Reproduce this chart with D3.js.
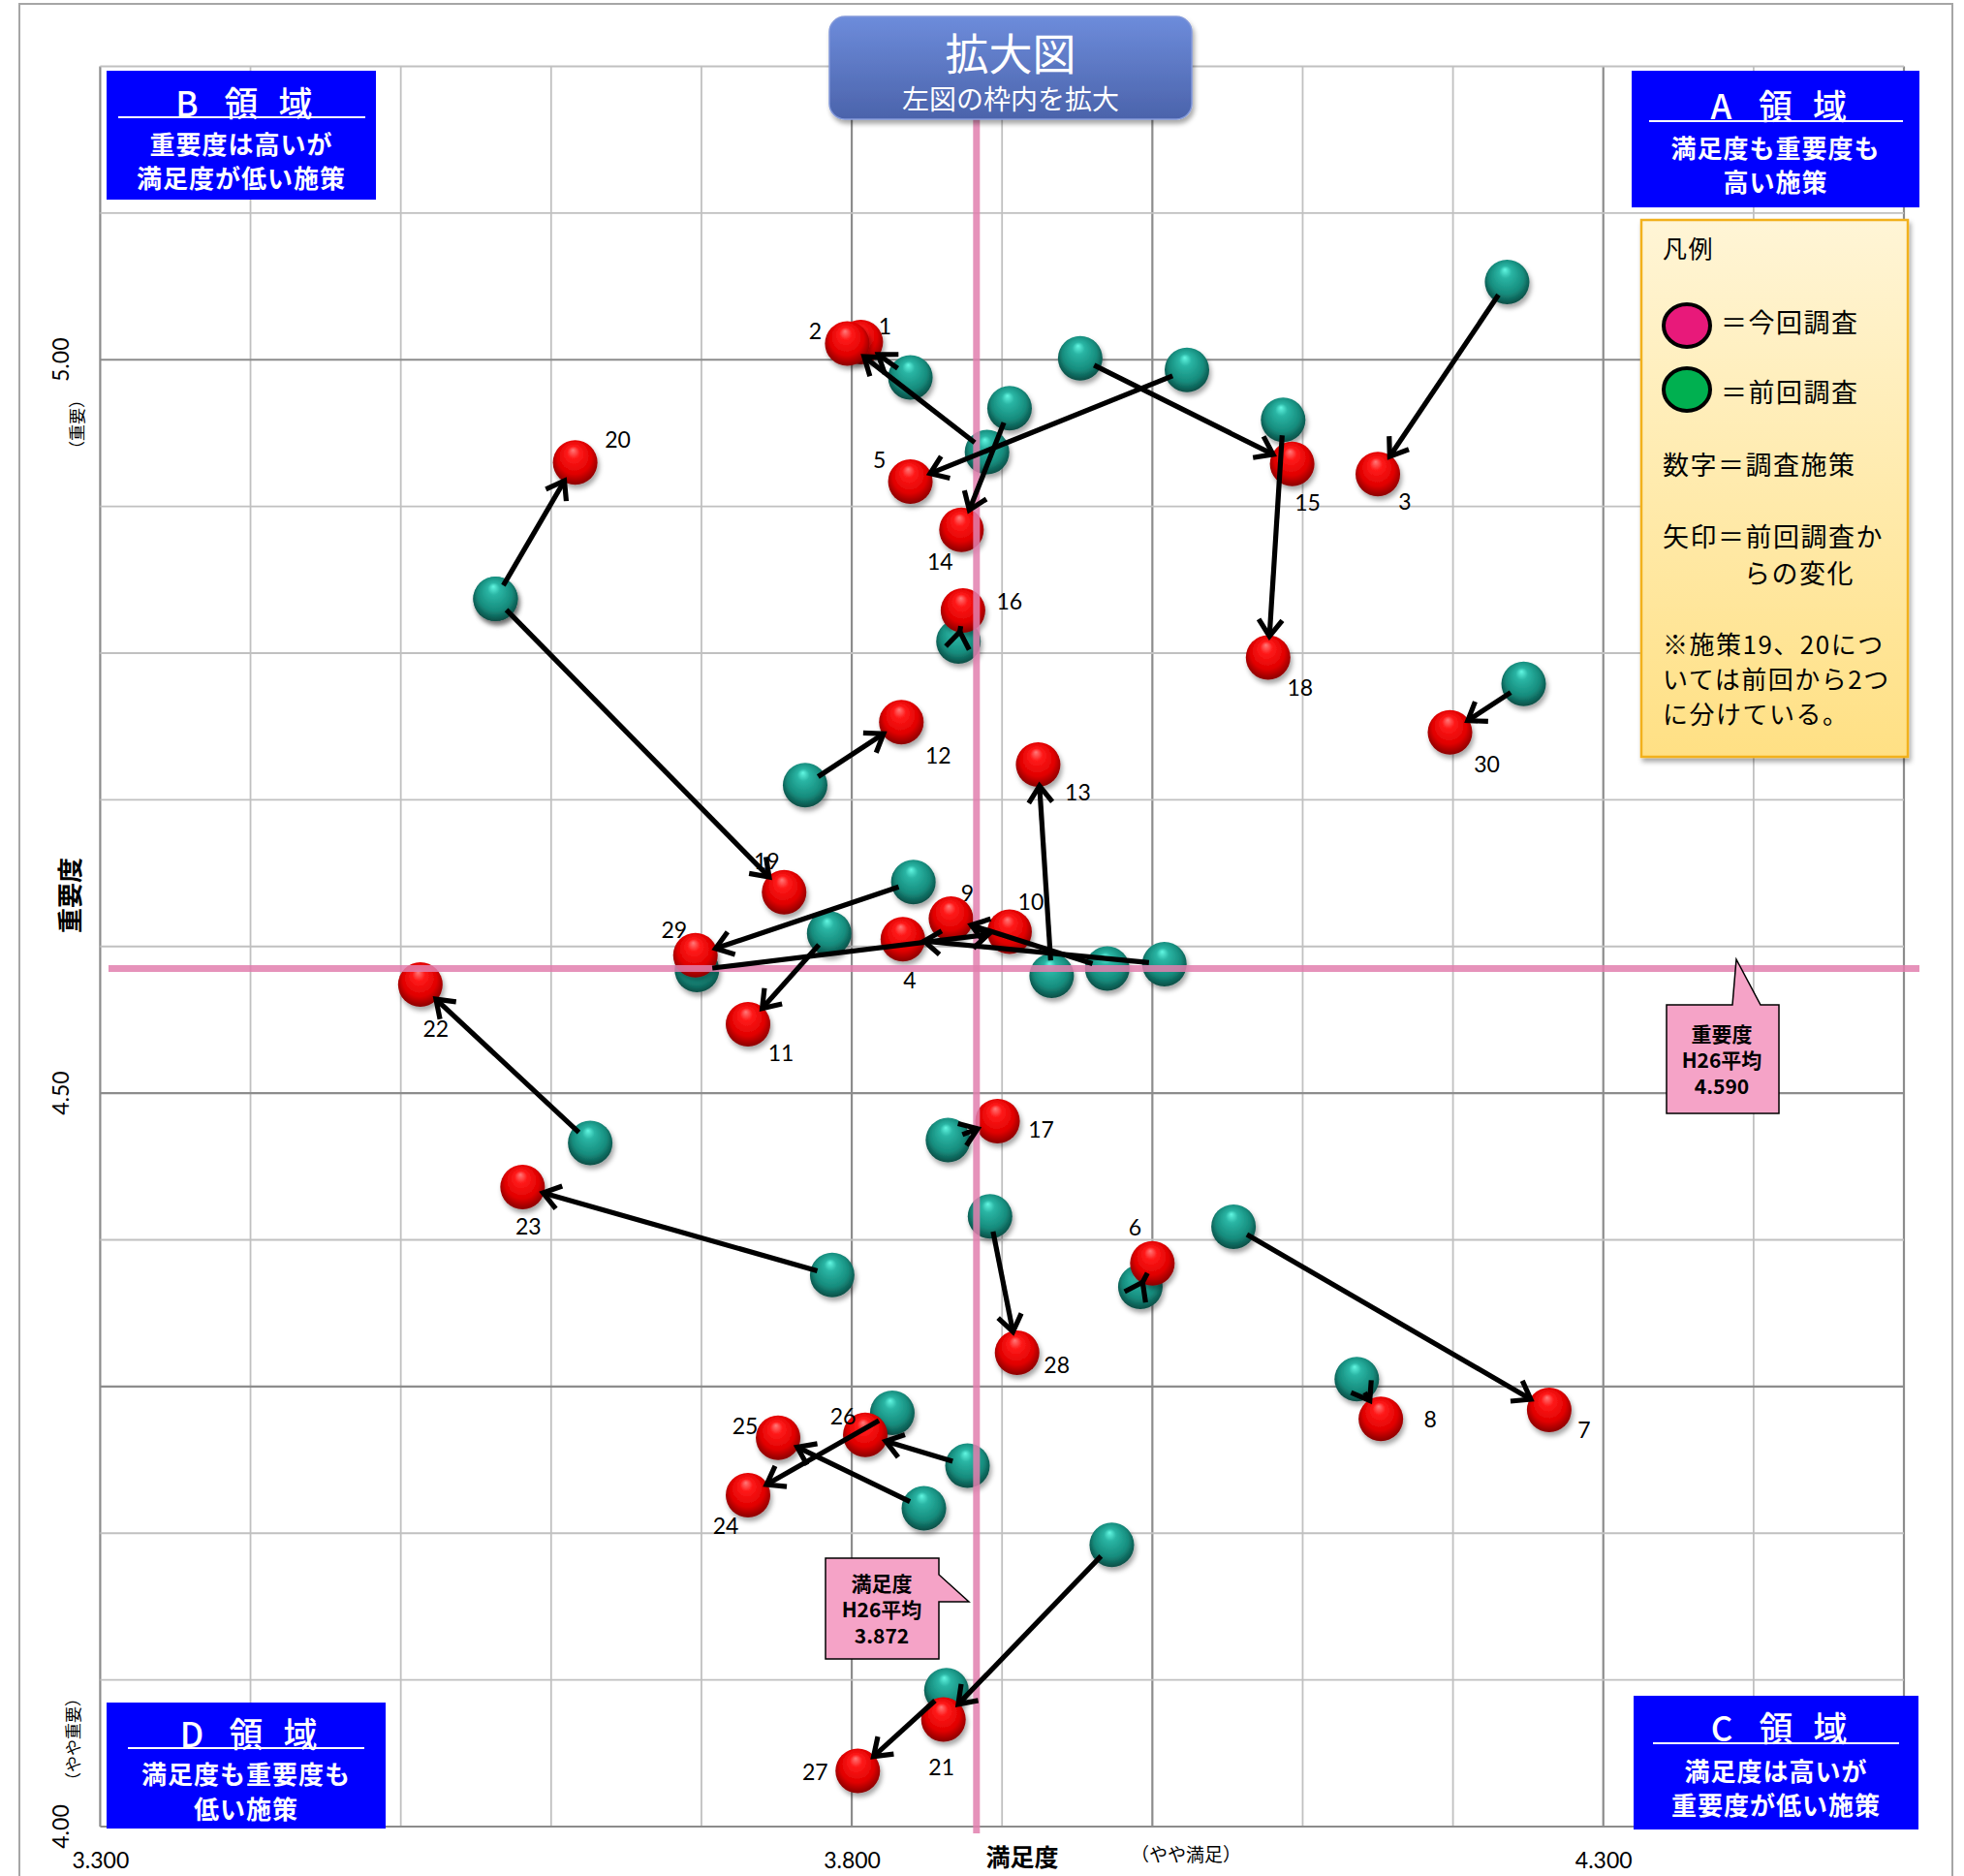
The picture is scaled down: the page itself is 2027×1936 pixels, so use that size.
<!DOCTYPE html>
<html>
<head>
<meta charset="utf-8">
<script src="https://cdn.jsdelivr.net/npm/d3@7"></script>
<style>
  body { margin: 0; background: #fff; }
  svg { display: block; }
</style>
</head>
<body>
<script>
// policy numbers, current survey (red) and previous survey (teal)
const ids = [1, 2, 3, 4, 5, 6, 7, 8, 9, 10, 11, 12, 13, 14, 15, 16, 17, 18, 19, 20, 21, 22, 23, 24, 25, 26, 27, 28, 29, 30]
const curSat = [3.806, 3.797, 4.150, 3.834, 3.839, 4.000, 4.264, 4.152, 3.866, 3.905, 3.731, 3.833, 3.924, 3.873, 4.093, 3.874, 3.897, 4.077, 3.755, 3.616, 3.861, 3.513, 3.581, 3.731, 3.751, 3.809, 3.804, 3.910, 3.696, 4.198]
const curImp = [5.012, 5.011, 4.922, 4.605, 4.917, 4.384, 4.284, 4.278, 4.619, 4.610, 4.547, 4.753, 4.724, 4.884, 4.929, 4.829, 4.481, 4.797, 4.637, 4.930, 4.073, 4.574, 4.436, 4.226, 4.265, 4.267, 4.038, 4.323, 4.594, 4.746]
const prevSat = [3.839, 3.890, 4.236, 4.008, 4.023, 3.992, 4.054, 4.136, 3.970, 3.697, 3.785, 3.769, 3.933, 3.905, 3.952, 3.871, 3.864, 4.087, 3.563, 3.563, 3.973, 3.626, 3.787, 3.827, 3.848, 3.877, 3.863, 3.892, 3.841, 4.247]
const prevImp = [4.988, 4.937, 5.053, 4.588, 4.993, 4.368, 4.409, 4.305, 4.585, 4.584, 4.609, 4.710, 4.580, 4.967, 5.001, 4.808, 4.468, 4.959, 4.837, 4.837, 4.192, 4.466, 4.376, 4.282, 4.217, 4.246, 4.093, 4.416, 4.644, 4.779]

const xGrid = [3.3, 3.4, 3.5, 3.6, 3.7, 3.8, 3.9, 4.0, 4.1, 4.2, 4.3, 4.4, 4.5]
const yGrid = [4.0, 4.1, 4.2, 4.3, 4.4, 4.5, 4.6, 4.7, 4.8, 4.9, 5.0, 5.1, 5.2]
const xTicks = [3.3, 3.8, 4.3]
const yTicks = [4.0, 4.5, 5.0]

// average lines (where they are drawn) and the callout texts
const satAvgLine = 3.883
const impAvgLine = 4.585
const satAvgText = ['満足度', 'H26平均', '3.872']
const impAvgText = ['重要度', 'H26平均', '4.590']

const legendLines = ['凡例', '＝今回調査', '＝前回調査', '数字＝調査施策', '矢印＝前回調査か', 'らの変化', '※施策19、20につ', 'いては前回から2つ', 'に分けている。']

const W = 2027, H = 1936
const jp = '"Noto Sans CJK JP", sans-serif'
const num = 'Lato, "Open Sans", sans-serif'

const svg = d3.select('body').append('svg').attr('width', W).attr('height', H)
svg.append('rect').attr('width', W).attr('height', H).attr('fill', '#fff')

const defs = svg.append('defs')
const shadow = defs.append('filter').attr('id', 'shadow').attr('x', '-50%').attr('y', '-50%').attr('width', '200%').attr('height', '200%')
shadow.append('feDropShadow').attr('dx', 2).attr('dy', 4).attr('stdDeviation', 2.5).attr('flood-opacity', 0.35)

const redGrad = defs.append('radialGradient').attr('id', 'red').attr('cx', '50%').attr('cy', '45%').attr('r', '55%').attr('fx', '45%').attr('fy', '22%')
redGrad.append('stop').attr('offset', '0%').attr('stop-color', '#ff7a7a')
redGrad.append('stop').attr('offset', '25%').attr('stop-color', '#ff1a1a')
redGrad.append('stop').attr('offset', '70%').attr('stop-color', '#e00000')
redGrad.append('stop').attr('offset', '100%').attr('stop-color', '#8a0000')

const tealGrad = defs.append('radialGradient').attr('id', 'teal').attr('cx', '50%').attr('cy', '45%').attr('r', '55%').attr('fx', '45%').attr('fy', '22%')
tealGrad.append('stop').attr('offset', '0%').attr('stop-color', '#62f7e2')
tealGrad.append('stop').attr('offset', '25%').attr('stop-color', '#2ab5a4')
tealGrad.append('stop').attr('offset', '70%').attr('stop-color', '#168c7d')
tealGrad.append('stop').attr('offset', '100%').attr('stop-color', '#0a4d45')

const titleGrad = defs.append('linearGradient').attr('id', 'titleGrad').attr('x1', 0).attr('y1', 0).attr('x2', 0).attr('y2', 1)
titleGrad.append('stop').attr('offset', '0%').attr('stop-color', '#6d8cdb')
titleGrad.append('stop').attr('offset', '100%').attr('stop-color', '#4b63ab')

const legGrad = defs.append('linearGradient').attr('id', 'legGrad').attr('x1', 0).attr('y1', 0).attr('x2', 0).attr('y2', 1)
legGrad.append('stop').attr('offset', '0%').attr('stop-color', '#fff5d6')
legGrad.append('stop').attr('offset', '100%').attr('stop-color', '#ffe084')

// outer frame
svg.append('rect').attr('x', 20).attr('y', 4).attr('width', 1995).attr('height', 1945)
	.attr('fill', 'none').attr('stroke', '#a6a6a6').attr('stroke-width', 2)

const x = d3.scaleLinear().domain([3.3, 4.5]).range([103.4, 1965])
const y = d3.scaleLinear().domain([4.0, 5.2]).range([1885, 68.5])

const isMajor = v => [3.3, 3.8, 4.3, 4.0, 4.5, 5.0].some(m => Math.abs(m - v) < 1e-6)

// gridlines
const grid = svg.append('g')
grid.selectAll('line.gx').data(xGrid).join('line')
	.attr('x1', d => x(d)).attr('x2', d => x(d)).attr('y1', y(5.2)).attr('y2', y(4.0))
	.attr('stroke', d => isMajor(d) ? '#8c8c8c' : '#c0c0c0').attr('stroke-width', d => isMajor(d) ? 2.2 : 1.8)
grid.selectAll('line.gy').data(yGrid).join('line')
	.attr('x1', x(3.3)).attr('x2', x(4.5)).attr('y1', d => y(d)).attr('y2', d => y(d))
	.attr('stroke', d => isMajor(d) ? '#8c8c8c' : '#c0c0c0').attr('stroke-width', d => isMajor(d) ? 2.2 : 1.8)

// x tick labels through the axis generator
const xAxis = svg.append('g').attr('transform', `translate(0,${y(4.0)})`)
	.call(d3.axisBottom(x).tickValues(xTicks).tickFormat(d3.format('.3f')).tickSize(0).tickPadding(27))
xAxis.select('.domain').remove()
xAxis.selectAll('text').attr('font-family', num).attr('font-size', 23).attr('fill', '#000')

// y tick labels, rotated
svg.append('g').selectAll('text').data(yTicks).join('text')
	.attr('transform', d => `translate(62,${y(d)}) rotate(-90)`)
	.attr('text-anchor', 'middle').attr('dominant-baseline', 'central')
	.attr('font-family', num).attr('font-size', 23).text(d3.format('.2f'))

// axis titles
svg.append('text').attr('x', 1055).attr('y', 1926).attr('text-anchor', 'middle')
	.attr('font-family', jp).attr('font-weight', 'bold').attr('font-size', 25).text('満足度')
svg.append('text').attr('x', 1224).attr('y', 1921).attr('text-anchor', 'middle')
	.attr('font-family', jp).attr('font-size', 19).text('（やや満足）')
svg.append('text').attr('transform', 'translate(70,924) rotate(-90)').attr('text-anchor', 'middle').attr('dominant-baseline', 'central')
	.attr('font-family', jp).attr('font-weight', 'bold').attr('font-size', 26).text('重要度')
svg.append('text').attr('transform', 'translate(78,438) rotate(-90)').attr('text-anchor', 'middle').attr('dominant-baseline', 'central')
	.attr('font-family', jp).attr('font-size', 17).text('（重要）')
svg.append('text').attr('transform', 'translate(74,1795) rotate(-90)').attr('text-anchor', 'middle').attr('dominant-baseline', 'central')
	.attr('font-family', jp).attr('font-size', 17).text('（やや重要）')

const R = 23
const pts = ids.map((id, i) => ({ id, cx: x(curSat[i]), cy: y(curImp[i]), px: x(prevSat[i]), py: y(prevImp[i]) }))

// previous survey balls (19 and 20 share the same previous point)
svg.append('g').selectAll('circle').data(pts).join('circle')
	.attr('cx', d => d.px).attr('cy', d => d.py).attr('r', R)
	.attr('fill', 'url(#teal)').attr('filter', 'url(#shadow)')

// current survey balls
svg.append('g').selectAll('circle').data(pts).join('circle')
	.attr('cx', d => d.cx).attr('cy', d => d.cy).attr('r', R)
	.attr('fill', 'url(#red)').attr('filter', 'url(#shadow)')

// average lines
const pink = '#e27fae'
svg.append('line').attr('x1', 112).attr('x2', 1981).attr('y1', y(impAvgLine)).attr('y2', y(impAvgLine))
	.attr('stroke', pink).attr('stroke-width', 7).attr('opacity', 0.85)
svg.append('line').attr('x1', x(satAvgLine)).attr('x2', x(satAvgLine)).attr('y1', 120).attr('y2', 1892)
	.attr('stroke', pink).attr('stroke-width', 7).attr('opacity', 0.85)

// arrows previous -> current
const arrows = svg.append('g').attr('stroke', '#000').attr('stroke-width', 5.2).attr('fill', 'none')
pts.forEach(d => {
	const dx = d.cx - d.px, dy = d.cy - d.py
	const len = Math.hypot(dx, dy)
	const ux = dx / len, uy = dy / len
	const sx = d.px + ux * 16, sy = d.py + uy * 16
	const ex = d.cx - ux * 22, ey = d.cy - uy * 22
	arrows.append('line').attr('x1', sx).attr('y1', sy).attr('x2', ex).attr('y2', ey)
	const a = Math.atan2(dy, dx), L = 21, s = 0.62
	const p1 = [ex - L * Math.cos(a - s), ey - L * Math.sin(a - s)]
	const p2 = [ex - L * Math.cos(a + s), ey - L * Math.sin(a + s)]
	arrows.append('path').attr('d', `M${p1}L${ex},${ey}L${p2}`)
})

// number labels
const labelOff = {
	1: [25, -17], 2: [-33, -14], 3: [28, 28], 4: [7, 42], 5: [-32, -23], 6: [-18, -38], 7: [36, 20], 8: [51, 0],
	9: [17, -27], 10: [22, -32], 11: [34, 29], 12: [38, 34], 13: [41, 28], 14: [-22, 32], 15: [16, 39],
	16: [48, -10], 17: [45, 8], 18: [33, 30], 19: [-18, -33], 20: [44, -24], 21: [-2, 49], 22: [16, 45],
	23: [6, 40], 24: [-23, 31], 25: [-34, -13], 26: [-23, -20], 27: [-44, 1], 28: [41, 12], 29: [-22, -27], 30: [38, 32]
}
svg.append('g').selectAll('text').data(pts).join('text')
	.attr('x', d => d.cx + labelOff[d.id][0]).attr('y', d => d.cy + labelOff[d.id][1])
	.attr('text-anchor', 'middle').attr('dominant-baseline', 'central')
	.attr('font-family', num).attr('font-size', 23).text(d => d.id)

// callouts for the averages
const callout = (path, cx, ys, lines) => {
	svg.append('path').attr('d', path).attr('fill', '#f5a3c7').attr('stroke', '#000').attr('stroke-width', 1.5)
	lines.forEach((t, i) => svg.append('text').attr('x', cx).attr('y', ys[i]).attr('text-anchor', 'middle').attr('dominant-baseline', 'central')
		.attr('font-family', jp).attr('font-weight', 'bold').attr('font-size', 21).text(t))
}
callout('M1720,1037L1788,1037L1792,990L1817,1037L1836,1037L1836,1149L1720,1149Z', 1777, [1066, 1093, 1120], impAvgText)
callout('M852,1608L969,1608L969,1625L1000,1653L969,1653L969,1712L852,1712Z', 910, [1633, 1660, 1687], satAvgText)

// quadrant boxes
const regionBox = (bx, by, bw, bh, letter, lines, ty, uy, ux1, ux2, ly) => {
	const g = svg.append('g')
	g.append('rect').attr('x', bx).attr('y', by).attr('width', bw).attr('height', bh).attr('fill', '#0000ff')
	const c = bx + bw / 2
	;[letter, '領', '域'].forEach((t, i) => g.append('text').attr('x', c - 56 + i * 56).attr('y', ty)
		.attr('text-anchor', 'middle').attr('dominant-baseline', 'central')
		.attr('font-family', jp).attr('font-weight', 500).attr('font-size', 35).attr('fill', '#fff').text(t))
	g.append('line').attr('x1', ux1).attr('x2', ux2).attr('y1', uy).attr('y2', uy).attr('stroke', '#fff').attr('stroke-width', 2)
	lines.forEach((t, i) => g.append('text').attr('x', c).attr('y', ly[i])
		.attr('text-anchor', 'middle').attr('dominant-baseline', 'central')
		.attr('font-family', jp).attr('font-weight', 'bold').attr('font-size', 26).attr('letter-spacing', 1).attr('fill', '#fff').text(t))
}
regionBox(110, 73, 278, 133, 'B', ['重要度は高いが', '満足度が低い施策'], 104, 121, 122, 377, [147, 182])
regionBox(1684, 73, 297, 141, 'A', ['満足度も重要度も', '高い施策'], 107, 125, 1702, 1964, [151, 186])
regionBox(1686, 1750, 294, 138, 'C', ['満足度は高いが', '重要度が低い施策'], 1781, 1799, 1706, 1960, [1826, 1861])
regionBox(110, 1757, 288, 130, 'D', ['満足度も重要度も', '低い施策'], 1787, 1804, 132, 376, [1829, 1865])

// legend
const leg = svg.append('g')
leg.append('rect').attr('x', 1694).attr('y', 227).attr('width', 275).attr('height', 554)
	.attr('fill', 'url(#legGrad)').attr('stroke', '#f2b11e').attr('stroke-width', 2.5).attr('filter', 'url(#shadow)')
leg.append('ellipse').attr('cx', 1741).attr('cy', 336).attr('rx', 24).attr('ry', 22)
	.attr('fill', '#e8197a').attr('stroke', '#000').attr('stroke-width', 4)
leg.append('ellipse').attr('cx', 1741).attr('cy', 402).attr('rx', 24).attr('ry', 22)
	.attr('fill', '#00b050').attr('stroke', '#000').attr('stroke-width', 4)
const legPos = [[1716, 255, 25], [1776, 331, 27], [1776, 403, 27], [1716, 478, 27], [1716, 552, 27], [1800, 590, 27], [1716, 663, 26], [1716, 699, 26], [1716, 735, 26]]
legendLines.forEach((t, i) => leg.append('text').attr('x', legPos[i][0]).attr('y', legPos[i][1])
	.attr('dominant-baseline', 'central').attr('font-family', jp).attr('font-size', legPos[i][2])
	.attr('letter-spacing', 1.5).text(t))

// title box
const tb = svg.append('g')
tb.append('rect').attr('x', 856).attr('y', 17).attr('width', 374).attr('height', 106).attr('rx', 16)
	.attr('fill', 'url(#titleGrad)').attr('stroke', '#8298da').attr('stroke-width', 1.5).attr('filter', 'url(#shadow)')
tb.append('text').attr('x', 1043).attr('y', 53).attr('text-anchor', 'middle').attr('dominant-baseline', 'central')
	.attr('font-family', jp).attr('font-size', 45).attr('fill', '#fff').text('拡大図')
tb.append('text').attr('x', 1043).attr('y', 101).attr('text-anchor', 'middle').attr('dominant-baseline', 'central')
	.attr('font-family', jp).attr('font-size', 28).attr('fill', '#fff').text('左図の枠内を拡大')
</script>
</body>
</html>
